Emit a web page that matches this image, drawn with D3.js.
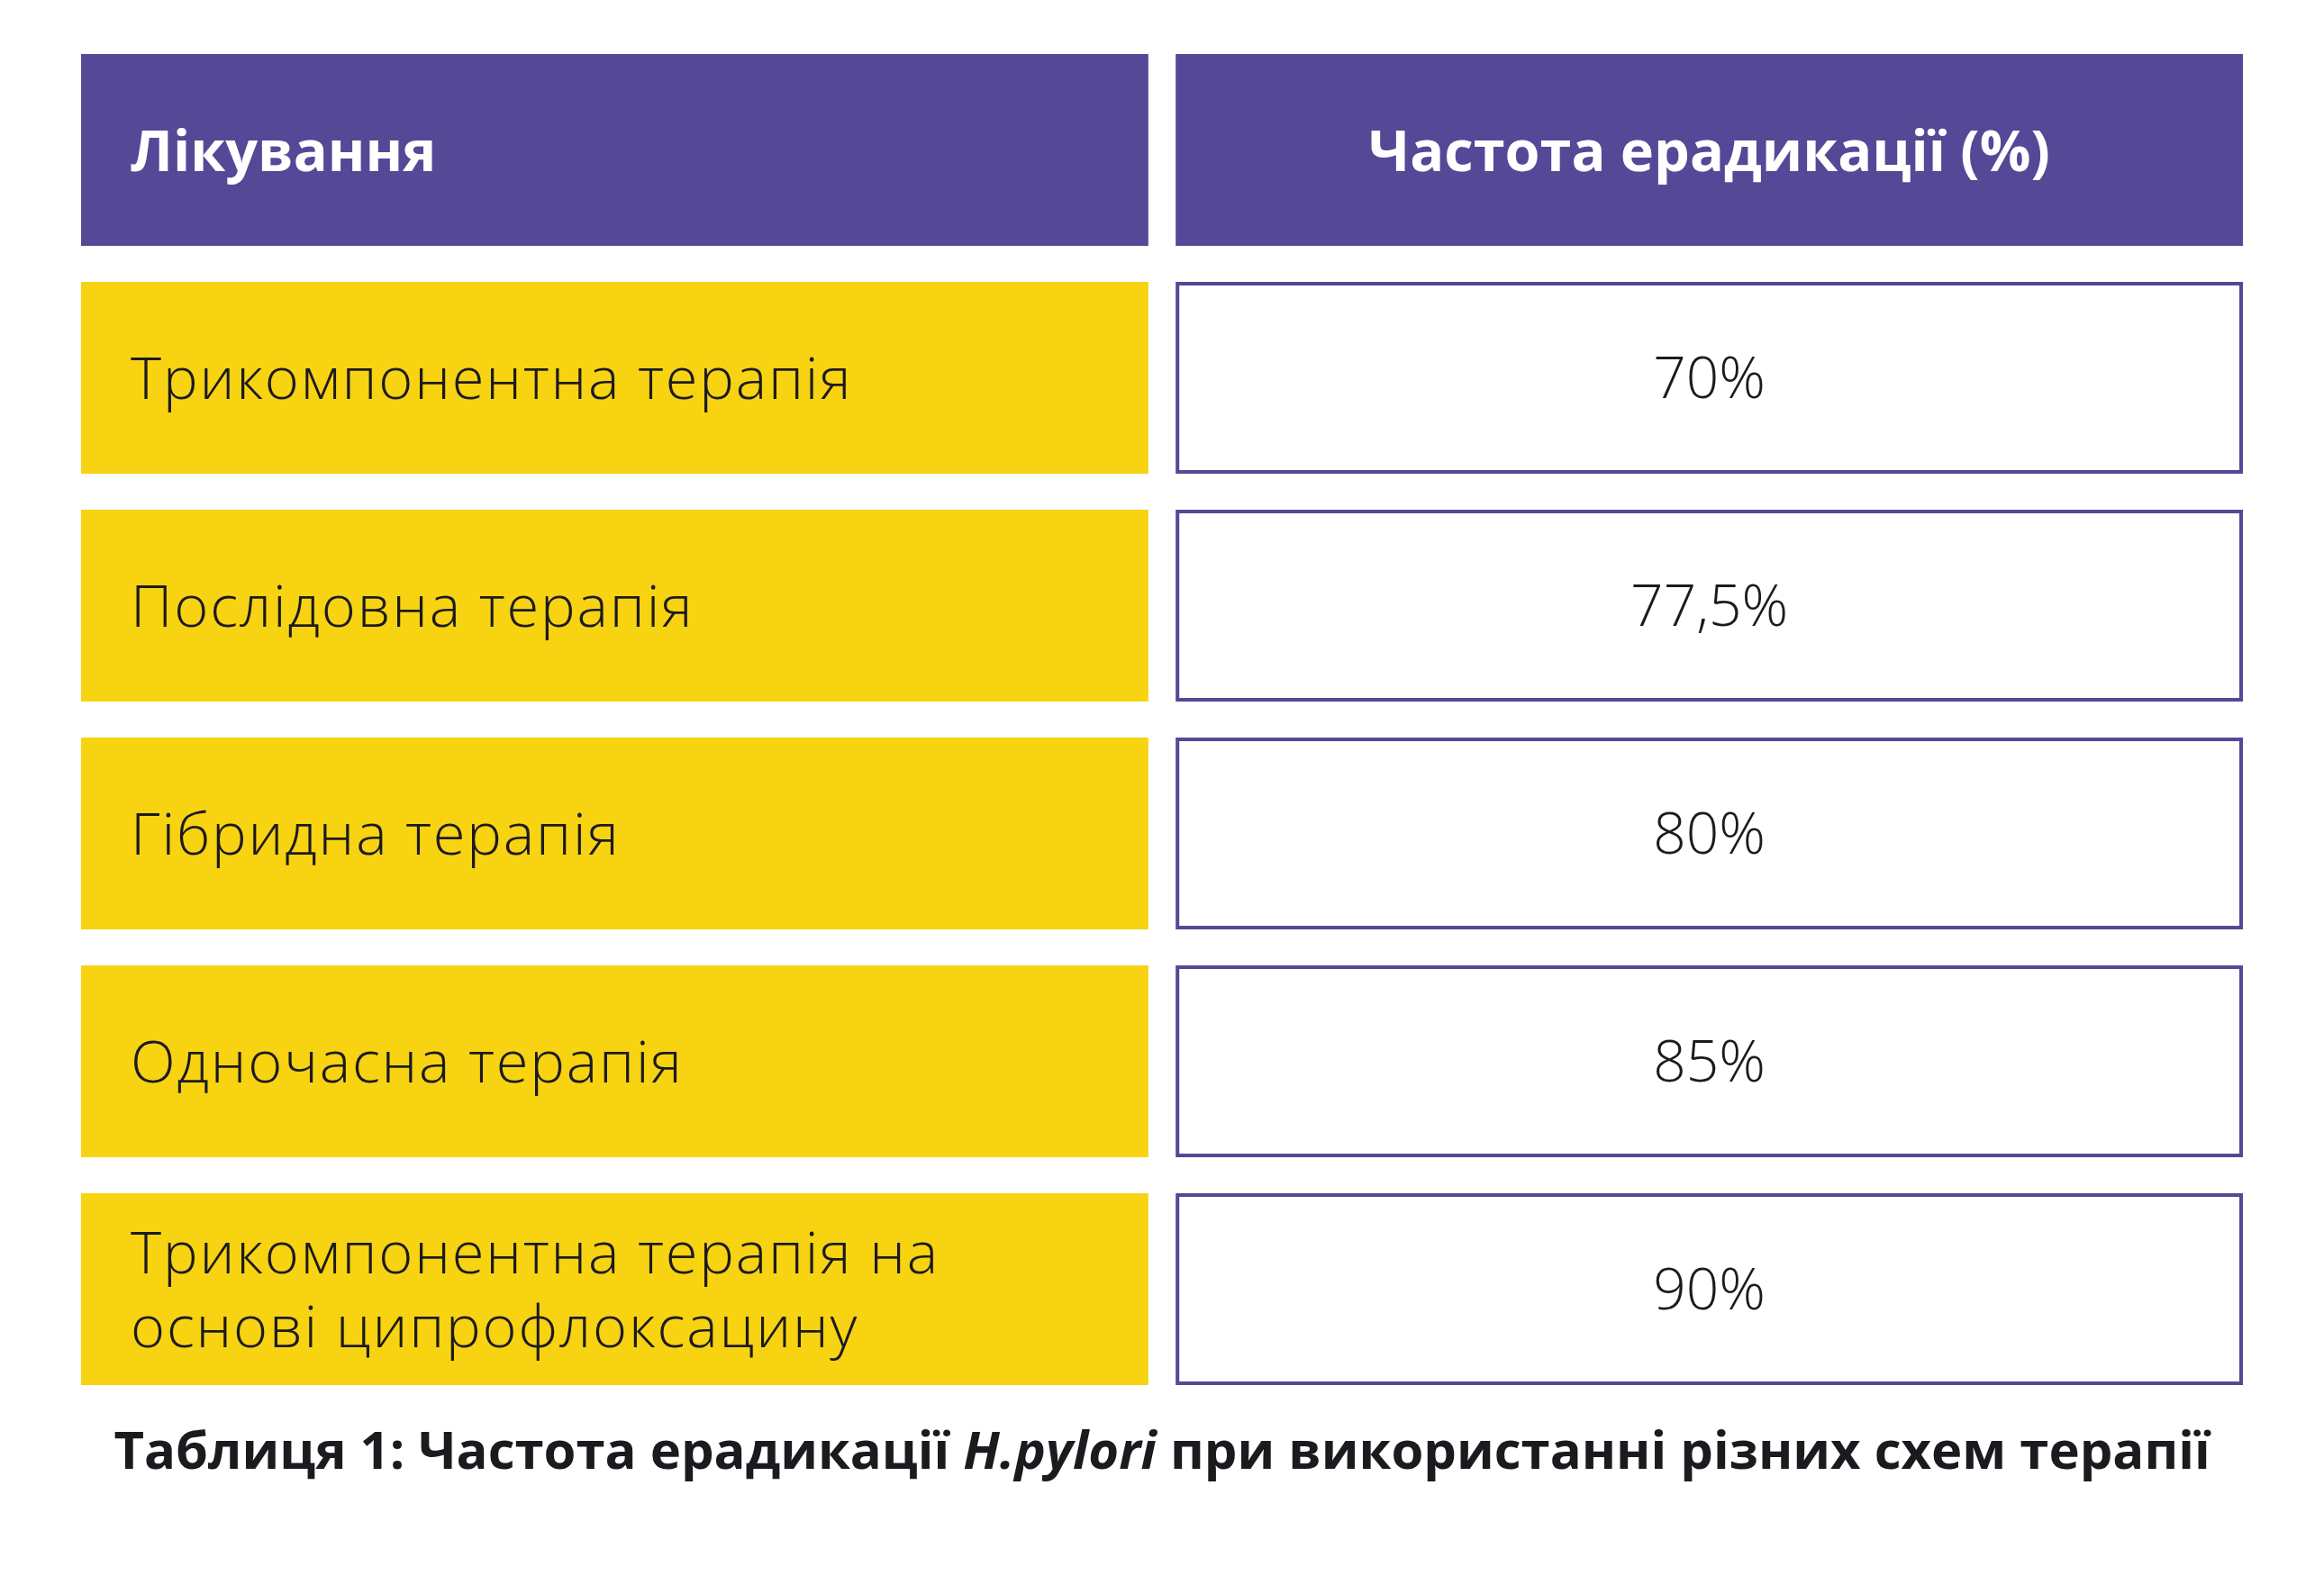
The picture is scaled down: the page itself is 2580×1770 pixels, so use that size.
<!DOCTYPE html>
<html>
<head>
<meta charset="utf-8">
<script src="https://cdn.jsdelivr.net/npm/d3@7"></script>
<style>
  html, body { margin: 0; padding: 0; background: #ffffff; }
  svg { display: block; }
</style>
</head>
<body>
<svg id="chart" width="2580" height="1770"></svg>
<script>
// ---- data ----
const headers = ["Лікування", "Частота ерадикації (%)"];
const treatments = [
  "Трикомпонентна терапія",
  "Послідовна терапія",
  "Гібридна терапія",
  "Одночасна терапія",
  "Трикомпонентна терапія на\nоснові ципрофлоксацину"
];
const rates = [70, 77.5, 80, 85, 90];
const captionParts = [
  { text: "Таблиця 1: Частота ерадикації ", italic: false },
  { text: "H.pylori", italic: true },
  { text: " при використанні різних схем терапії", italic: false }
];

// ---- style ----
const PURPLE = "#554896";
const YELLOW = "#F7D312";
const TEXT = "#1c1a1f";
const FONT = "'Open Sans', 'Noto Sans', sans-serif";

const svg = d3.select("#chart");
const W = 2580;

const uaLocale = d3.formatLocale({ decimal: ",", thousands: " ", grouping: [3], currency: ["", " грн"] });
const fmt = v => uaLocale.format("~f")(v) + "%";

const rowKeys = ["header"].concat(treatments.map((d, i) => "r" + i));
const y = d3.scaleBand().domain(rowKeys).range([60, 1538]).paddingInner(40 / 253).paddingOuter(0);
const x = d3.scaleBand().domain(["treatment", "rate"]).range([90, 2490]).paddingInner(30 / 1200).paddingOuter(0);

// header
const hdr = svg.append("g");
hdr.selectAll("rect").data(["treatment", "rate"]).join("rect")
  .attr("x", d => x(d)).attr("y", y("header"))
  .attr("width", x.bandwidth()).attr("height", y.bandwidth())
  .attr("fill", PURPLE);

hdr.append("text")
  .attr("x", x("treatment") + 55)
  .attr("y", y("header") + y.bandwidth() / 2 + 23)
  .attr("font-family", FONT).attr("font-weight", 700).attr("font-size", 63)
  .attr("fill", "#ffffff")
  .text(headers[0]);
hdr.append("text")
  .attr("x", x("rate") + x.bandwidth() / 2)
  .attr("y", y("header") + y.bandwidth() / 2 + 23)
  .attr("text-anchor", "middle")
  .attr("font-family", FONT).attr("font-weight", 700).attr("font-size", 63)
  .attr("fill", "#ffffff")
  .text(headers[1]);

// rows
const rows = svg.append("g").selectAll("g").data(treatments.map((t, i) => ({ t, v: rates[i], k: "r" + i })))
  .join("g");

rows.append("rect")
  .attr("x", x("treatment")).attr("y", d => y(d.k))
  .attr("width", x.bandwidth()).attr("height", y.bandwidth())
  .attr("fill", YELLOW);

rows.append("rect")
  .attr("x", x("rate") + 2).attr("y", d => y(d.k) + 2)
  .attr("width", x.bandwidth() - 4).attr("height", y.bandwidth() - 4)
  .attr("fill", "#ffffff").attr("stroke", PURPLE).attr("stroke-width", 4);

rows.each(function(d) {
  const g = d3.select(this);
  const lines = d.t.split("\n");
  const lh = 82;
  const cy = y(d.k) + y.bandwidth() / 2;
  const t = g.append("text")
    .attr("font-family", FONT).attr("font-weight", 300).attr("font-size", 65)
    .attr("letter-spacing", 1.8)
    .attr("fill", TEXT);
  lines.forEach((ln, i) => {
    t.append("tspan")
      .attr("x", x("treatment") + 55)
      .attr("y", cy + 23 + (i - (lines.length - 1) / 2) * lh)
      .text(ln);
  });
  g.append("text")
    .attr("x", x("rate") + x.bandwidth() / 2)
    .attr("y", cy + 22)
    .attr("text-anchor", "middle")
    .attr("font-family", FONT).attr("font-weight", 300).attr("font-size", 64)
    .attr("fill", TEXT)
    .text(fmt(d.v));
});

// caption
const cap = svg.append("text")
  .attr("x", W / 2).attr("y", 1631)
  .attr("text-anchor", "middle")
  .attr("font-family", FONT).attr("font-weight", 700).attr("font-size", 58)
  .attr("fill", TEXT);
cap.selectAll("tspan").data(captionParts).join("tspan")
  .attr("font-style", d => d.italic ? "italic" : "normal")
  .text(d => d.text);
</script>
</body>
</html>
